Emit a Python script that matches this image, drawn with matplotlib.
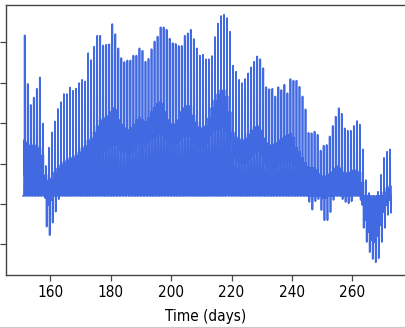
import numpy as np
import matplotlib
matplotlib.use("Agg")
import matplotlib.pyplot as plt
from matplotlib import font_manager
from matplotlib.lines import Line2D

# one entry per day, days 151..272
days = np.arange(151, 273)

peak = [
    41.7, 29.7, 24.5, 26.3, 28.5, 31.3, 19.9, 9.4, 13.9, 17.7,
    20.4, 23.5, 25.2, 27.2, 27.2, 28.8, 28.0, 28.5, 29.9, 30.7,
    30.3, 37.3, 35.6, 38.9, 41.6, 41.6, 39.2, 39.4, 39.5, 44.5,
    42.0, 38.5, 36.1, 35.1, 35.5, 35.5, 36.7, 36.7, 38.5, 37.9,
    35.2, 35.9, 38.3, 40.2, 41.4, 43.7, 43.7, 43.1, 40.9, 39.8,
    39.6, 39.1, 39.1, 41.6, 42.2, 43.1, 40.8, 38.5, 36.7, 36.9,
    35.8, 35.8, 36.6, 41.3, 44.6, 46.5, 46.8, 46.0, 42.6, 34.2,
    32.7, 30.7, 29.9, 30.9, 32.3, 33.8, 35.2, 36.5, 35.8, 33.6,
    28.9, 28.4, 28.5, 26.6, 28.9, 28.2, 29.5, 27.4, 30.9, 30.5,
    30.5, 29.0, 26.6, 23.4, 17.6, 17.5, 17.9, 17.1, 13.2, 14.4,
    14.6, 16.7, 19.3, 21.6, 23.7, 22.3, 18.7, 18.1, 18.1, 19.3,
    20.5, 19.6, 13.5, 5.9, 2.7, 0.2, 1.0, 3.0, 7.2, 11.4,
    12.9, 13.5,
]

band_top = [
    15.8, 15.3, 14.6, 14.6, 14.6, 13.9, 12.1, 7.2, 5.9, 6.4,
    7.9, 8.9, 9.7, 10.4, 10.9, 11.4, 11.6, 12.1, 12.9, 13.9,
    14.4, 15.8, 16.3, 17.8, 19.3, 20.8, 21.3, 21.8, 22.8, 23.8,
    23.3, 20.8, 19.6, 18.8, 18.3, 18.8, 19.6, 20.8, 21.3, 20.8,
    20.3, 21.3, 22.8, 23.8, 24.8, 25.2, 24.8, 22.8, 20.8, 19.8,
    19.8, 20.8, 22.8, 23.8, 24.3, 24.3, 22.0, 20.3, 19.1, 18.8,
    19.3, 21.3, 23.8, 25.7, 27.2, 28.2, 28.2, 26.7, 22.8, 17.8,
    16.6, 16.1, 15.8, 16.3, 17.3, 18.3, 19.1, 19.3, 18.3, 16.3,
    15.1, 14.6, 14.8, 15.1, 15.8, 16.3, 16.8, 17.1, 17.3, 16.3,
    13.9, 12.9, 11.4, 10.1, 9.2, 8.9, 8.9, 8.4, 7.4, 6.9,
    6.9, 7.4, 7.9, 8.9, 9.4, 8.9, 7.9, 7.7, 7.9, 8.4,
    8.4, 7.9, 5.4, 2.2, -0.2, -2.0, -2.5, -1.5, 1.0, 3.0,
    4.0, 4.5,
]

band_bot = [
    7.2, 7.2, 7.2, 7.2, 7.2, 6.4, 5.4, 1.5, -0.2, 1.0,
    2.2, 3.0, 3.5, 4.0, 4.5, 5.0, 5.2, 5.4, 5.9, 6.4,
    6.9, 7.9, 8.4, 9.7, 10.9, 12.1, 12.9, 13.4, 13.9, 14.6,
    14.6, 13.4, 12.9, 12.6, 12.4, 12.9, 13.4, 14.6, 15.1, 15.1,
    14.4, 15.1, 15.8, 16.3, 16.8, 17.3, 16.8, 15.8, 15.1, 14.6,
    14.6, 15.1, 15.8, 16.6, 16.8, 16.8, 15.8, 14.6, 13.9, 13.9,
    14.1, 15.3, 16.8, 17.8, 18.3, 18.8, 18.8, 17.8, 15.8, 11.4,
    10.4, 9.9, 9.7, 10.1, 10.9, 11.9, 12.6, 12.9, 11.9, 10.1,
    8.9, 8.4, 8.4, 8.9, 9.7, 10.1, 10.4, 10.4, 10.4, 9.7,
    7.2, 6.4, 5.2, 4.0, 3.0, 3.0, 3.0, 2.7, 2.0, 1.5,
    1.5, 2.0, 2.5, 3.0, 3.5, 3.0, 2.5, 2.2, 2.5, 2.7,
    2.7, 2.5, -0.2, -4.0, -6.9, -8.9, -9.4, -7.9, -5.2, -2.0,
    -0.2, 1.0,
]

trough = [
    2.0, 2.0, 2.0, 2.0, 2.0, 2.0, 2.0, -5.6, -7.7, -4.6,
    -1.9, 1.2, 2.0, 2.0, 2.0, 2.0, 2.0, 2.0, 2.0, 2.0,
    2.0, 2.0, 2.0, 2.0, 2.0, 2.0, 2.0, 2.0, 2.0, 2.0,
    2.0, 2.0, 2.0, 2.0, 2.0, 2.0, 2.0, 2.0, 2.0, 2.0,
    2.0, 2.0, 2.0, 2.0, 2.0, 2.0, 2.0, 2.0, 2.0, 2.0,
    2.0, 2.0, 2.0, 2.0, 2.0, 2.0, 2.0, 2.0, 2.0, 2.0,
    2.0, 2.0, 2.0, 2.0, 2.0, 2.0, 2.0, 2.0, 2.0, 2.0,
    2.0, 2.0, 2.0, 2.0, 2.0, 2.0, 2.0, 2.0, 2.0, 2.0,
    2.0, 2.0, 2.0, 2.0, 2.0, 2.0, 2.0, 2.0, 2.0, 2.0,
    2.0, 2.0, 2.0, 2.0, 0.5, -1.4, 0.7, 1.2, -1.5, -4.0,
    -4.0, -2.0, 1.0, 2.0, 2.0, 1.2, 0.5, 0.2, 0.7, 2.0,
    2.0, 1.0, -5.9, -9.4, -11.9, -13.6, -14.4, -13.4, -9.4, -5.9,
    -2.7, -2.2,
]

night = 2.0  # flat night-time level

# time of day (fraction) for each sample in a daily cycle
day_frac = [0.0, 0.25, 0.30, 0.36, 0.43, 0.50, 0.57, 0.64, 0.70, 0.77, 0.84]

t, y = [], []
for d, pk, hi, lo, tr in zip(days, peak, band_top, band_bot, trough):
    cycle = [night, night, lo, hi, lo, pk, lo, hi, lo, tr, night]
    t.extend(d + f for f in day_frac)
    y.extend(cycle)

# pick a narrow face when the system has one
fonts = font_manager.fontManager.ttflist
names = {f.name for f in fonts}
if any(f.name == "DejaVu Sans" and f.stretch == "condensed" for f in fonts):
    plt.rcParams["font.family"] = "DejaVu Sans"
    plt.rcParams["font.stretch"] = "condensed"
    fsize = 11
elif "Liberation Sans Narrow" in names:
    plt.rcParams["font.family"] = "Liberation Sans Narrow"
    fsize = 12
else:
    plt.rcParams["font.family"] = "Liberation Sans"
    fsize = 11

fig = plt.figure(figsize=(4.05, 3.28), dpi=100)
ax = fig.add_axes([6 / 405, 53.5 / 328, 404 / 405, 269.8 / 328])

ax.plot(t, y, color="royalblue", lw=1.25)

ax.set_xlim(145.3, 279.1)
ax.set_ylim(-17.45, 49.3)
ax.set_xticks([160, 180, 200, 220, 240, 260])
ax.set_yticks([-10, 0, 10, 20, 30, 40])
ax.tick_params(labelsize=fsize, length=4, width=0.9, color="#444444")
ax.set_xlabel("Time (days)", fontsize=fsize, va="center")
ax.xaxis.set_label_coords(0.495, -0.157)
for s in ax.spines.values():
    s.set_color("#444444")
    s.set_linewidth(1.0)

# thin rule along the bottom edge
fig.add_artist(Line2D([0, 1], [0.004, 0.004], transform=fig.transFigure,
                      color="#c8c8c8", lw=0.8))

fig.savefig("out.png", dpi=100)
